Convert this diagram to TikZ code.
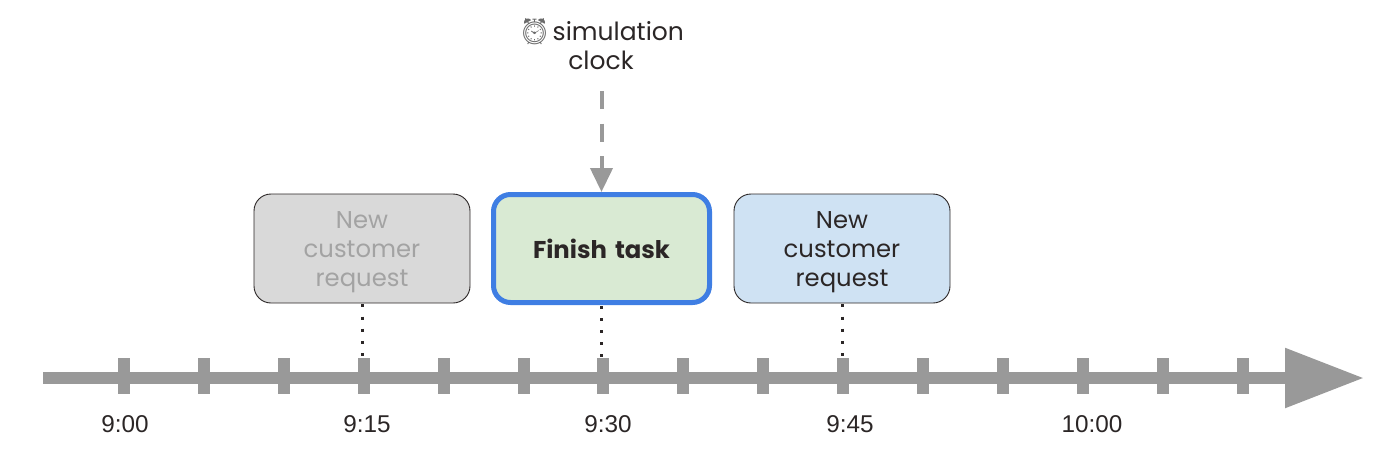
\documentclass[tikz,border=0pt]{standalone}
\usepackage{fontspec}
\setmainfont{Poppins}
\newfontfamily\labelfont{Liberation Sans}
\newfontfamily\emojifont{Noto Emoji}
\usetikzlibrary{arrows.meta}
\definecolor{axisgray}{HTML}{999999}
\definecolor{inkdark}{HTML}{2B2626}
\definecolor{fadetext}{HTML}{A3A3A3}
\definecolor{boxgray}{HTML}{D9D9D9}
\definecolor{boxgreen}{HTML}{D9EAD3}
\definecolor{boxblue}{HTML}{CFE2F3}
\definecolor{boxedge}{HTML}{3F7EE3}
\tikzset{
  x=1pt,y=-1pt,
  eventbox/.style={rectangle,rounded corners=17pt,minimum width=216pt,minimum height=109pt,inner sep=0pt,
    draw=inkdark,line width=0.9pt,align=center,text width=200pt,font=\fontsize{24.3}{29}\selectfont,text=inkdark},
  tickmark/.style={rectangle,fill=axisgray,minimum width=12.5pt,minimum height=36pt,inner sep=0pt},
  timelabel/.style={font=\labelfont\fontsize{24.3}{28}\selectfont,text=inkdark,inner sep=0pt},
  dotline/.style={draw=inkdark,line width=3pt,dash pattern=on 3pt off 9.1pt,dash phase=-1pt},
  clockline/.style={draw=axisgray,line width=4pt,dash pattern=on 18pt off 14.5pt,-{Triangle[length=24pt,width=22pt,fill=axisgray]}}
}
\begin{document}
\begin{tikzpicture}
\useasboundingbox (0,0) rectangle (1400,466);
% axis
\coordinate (axisstart) at (43,378);
\coordinate (axisend) at (1364,378);
\draw[axisgray,line width=12pt,-{Triangle[length=79pt,width=57pt,fill=axisgray]}] (axisstart) -- (axisend);
% ticks
\foreach \n/\x in {a/124,b/204,c/284,d/364,e/444,f/524,g/603,h/683,i/763,j/843,k/923,l/1003,m/1083,n/1163,o/1243}
  \node[tickmark] (tick\n) at (\x,376) {};
% boxes
\node[eventbox,fill=boxgray,text=fadetext] (req1) at (362,248.5) {\rule{0pt}{25pt}New\\customer\\request};
\node[eventbox,fill=boxgreen,draw=boxedge,line width=5pt,minimum width=216pt,minimum height=108pt,font=\fontsize{24.3}{29}\selectfont\bfseries] (finish) at (601.5,248.5) {Finish task};
\node[eventbox,fill=boxblue] (req2) at (842,248.5) {\rule{0pt}{25pt}New\\customer\\request};
% dotted links
\draw[dotline] (req1.south) -- (req1.south |- tickd.north);
\draw[dotline] (finish.south) -- (finish.south |- tickg.north);
\draw[dotline] (req2.south) -- (req2.south |- tickj.north);
% clock
\node[align=center,inner sep=0pt,text=inkdark,font=\fontsize{25}{29}\selectfont] (clock) at (601,44) {{\emojifont\fontsize{26}{29}\selectfont\textcolor{axisgray!70!black}{\char"23F0}}\hspace{-5pt} simulation\\clock};
\coordinate (clockfoot) at (601.5,91);
\draw[clockline] (clockfoot) -- (finish.north);
% time labels
\node[timelabel] (t1) at (125,424) {9:00};
\node[timelabel] (t2) at (367,424) {9:15};
\node[timelabel] (t3) at (608,424) {9:30};
\node[timelabel] (t4) at (850,424) {9:45};
\node[timelabel] (t5) at (1092,424) {10:00};
\end{tikzpicture}
\end{document}
